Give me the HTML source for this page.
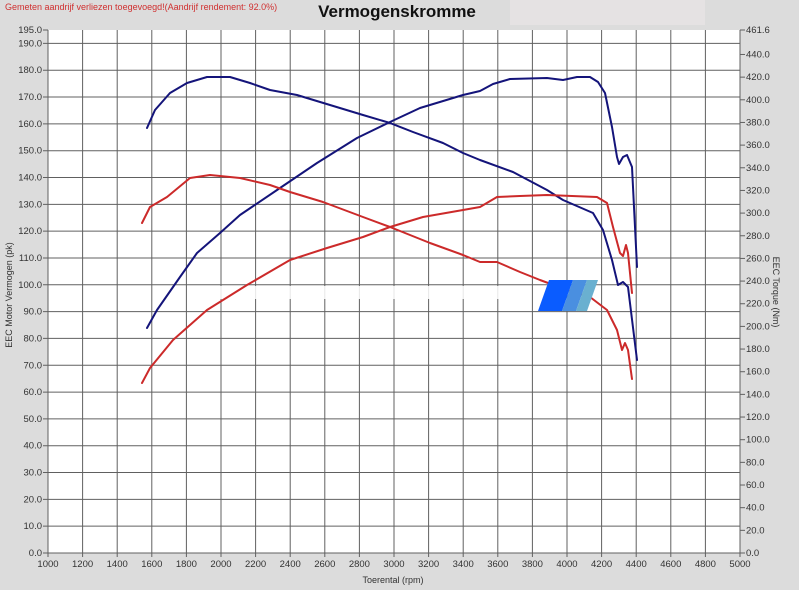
<!DOCTYPE html>
<html><head><meta charset="utf-8"><style>
html,body{margin:0;padding:0;background:#dcdcdc;}
svg{display:block;font-family:"Liberation Sans",sans-serif;}
</style></head><body>
<svg width="799" height="590" viewBox="0 0 799 590" xmlns="http://www.w3.org/2000/svg">
<rect x="0" y="0" width="799" height="590" fill="#dcdcdc"/>
<rect x="510" y="0" width="195" height="25" fill="#e5e2e3"/>
<text x="5" y="10" font-size="9" fill="#d03030">Gemeten aandrijf verliezen toegevoegd!(Aandrijf rendement: 92.0%)</text>
<text x="397" y="17" font-size="17" font-weight="bold" fill="#111" text-anchor="middle">Vermogenskromme</text>
<rect x="48" y="30" width="692" height="523" fill="#fff"/>
<g stroke="#606060" stroke-width="1" id="grid"></g>
<g id="ticks" font-size="9.5" fill="#333"></g>
<text transform="translate(12,295) rotate(-90)" font-size="9" fill="#333" text-anchor="middle">EEC Motor Vermogen (pk)</text>
<text transform="translate(773,292) rotate(90)" font-size="9" fill="#333" text-anchor="middle">EEC Torque (Nm)</text>
<text x="393" y="583" font-size="9" fill="#333" text-anchor="middle">Toerental (rpm)</text>
<rect x="205" y="286" width="300" height="13" fill="#fff" opacity="0.85"/>
<g fill="none" stroke-width="2" stroke-linecap="round">
<polyline stroke-linejoin="round" stroke="#14147a" points="147,128 155,110 170,93 187,83 207,77 220,77 230,77 250,83 270,90 297,95 330,105 363,115 390,123 413,132 443,143 463,153 480,160 513,172 547,190 563,200 593,213 603,230 612,260 618,285 623,282 628,287 637,360"/>
<polyline stroke-linejoin="round" stroke="#14147a" points="147,328 157,310 180,277 197,253 220,233 240,215 280,188 317,163 357,138 390,122 420,108 463,95 480,91 493,84 510,79 547,78 563,80 577,77 590,77 598,82 605,93 612,127 617,157 619,164 623,157 627,155 632,167 637,267"/>
<polyline stroke-linejoin="round" stroke="#cc2a2a" points="142,223 150,207 167,197 190,178 210,175 240,178 270,185 290,192 323,202 363,217 390,227 430,243 463,255 480,262 497,262 520,272 540,280 567,290 590,297 607,310 617,330 622,350 625,343 628,350 632,379"/>
<polyline stroke-linejoin="round" stroke="#cc2a2a" points="142,383 150,368 173,340 207,310 247,285 290,260 327,248 363,237 390,227 423,217 463,210 480,207 497,197 520,196 547,195 597,197 607,203 613,227 620,253 623,256 626,245 628,253 632,293"/>
</g>
<polygon points="549,280 573,280 562,311 538,311" fill="#0a5cff"/>
<polygon points="573,280 587,280 576,311 562,311" fill="#4a8fe0"/>
<polygon points="587,280 598,280 587,311 576,311" fill="#6ab0d0"/>
<script>
var g=document.getElementById('grid'),t=document.getElementById('ticks'),ns="http://www.w3.org/2000/svg";
function el(p,n,a,txt){var e=document.createElementNS(ns,n);for(var k in a)e.setAttribute(k,a[k]);if(txt!==undefined)e.textContent=txt;p.appendChild(e);return e;}
var k=523/195;
for(var v=0;v<=190;v+=10){var y=553-v*k;el(g,'line',{x1:43,x2:740,y1:y,y2:y});el(t,'text',{x:42,y:y+3,'text-anchor':'end'},v.toFixed(1));}
el(g,'line',{x1:43,x2:48,y1:30,y2:30});el(t,'text',{x:42,y:33,'text-anchor':'end'},'195.0');
for(var r=1000;r<=5000;r+=200){var x=48+(r-1000)*0.173;el(g,'line',{x1:x,x2:x,y1:30,y2:557});el(t,'text',{x:x,y:567,'text-anchor':'middle'},String(r));}
var kn=523/461.6;
for(var n=0;n<=440;n+=20){var y=553-n*kn;el(g,'line',{x1:740,x2:745,y1:y,y2:y});el(t,'text',{x:746,y:y+3},n.toFixed(1));}
el(g,'line',{x1:740,x2:745,y1:30,y2:30});el(t,'text',{x:746,y:33},'461.6');
el(g,'line',{x1:48,x2:48,y1:30,y2:553});el(g,'line',{x1:740,x2:740,y1:30,y2:553});
</script>
</svg>
</body></html>
